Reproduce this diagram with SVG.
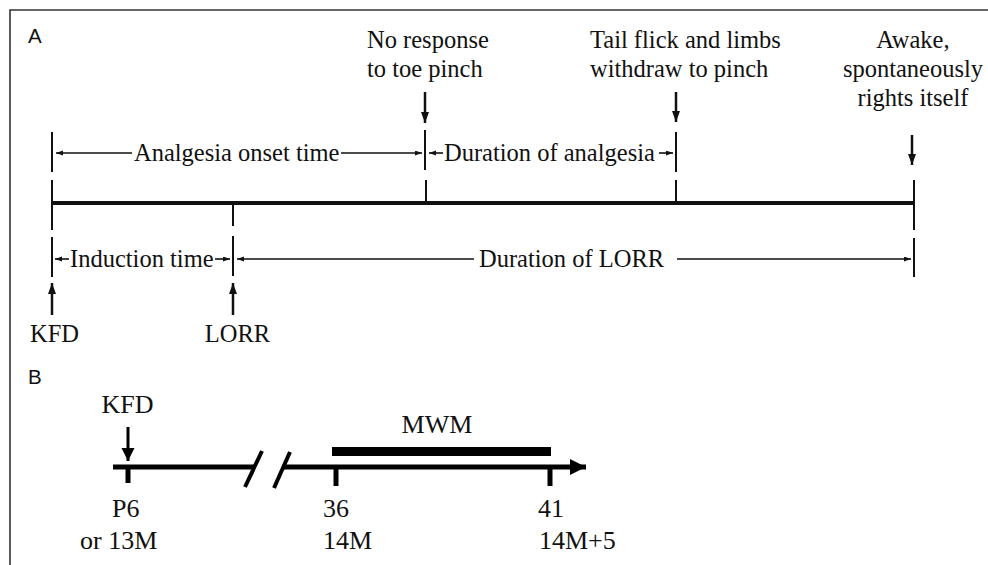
<svg xmlns="http://www.w3.org/2000/svg" width="988" height="565" viewBox="0 0 988 565">
  <style>
    text.serif { font-family: 'Liberation Serif', 'DejaVu Serif', serif; fill: #111; }
    text.a { font-size: 24.5px; }
    text.b { font-size: 26px; }
    text.panel { font-family: 'Liberation Sans', Arial, sans-serif; font-size: 20.5px; fill: #111; }
    .frame { stroke: #333; stroke-width: 1.6; fill: none; }
    .tick { stroke: #111; stroke-width: 2; fill: none; }
    .dim { stroke: #111; stroke-width: 1.6; fill: none; marker-end: url(#small); }
    .pointer { stroke: #111; stroke-width: 2.5; fill: none; marker-end: url(#big); }
    .pointerB { stroke: #000; stroke-width: 3; fill: none; marker-end: url(#bigK); }
    .axis { stroke: #111; stroke-width: 4; fill: none; }
    .axisB { stroke: #000; stroke-width: 5; fill: none; }
    .slash { stroke: #000; stroke-width: 4; fill: none; }
  </style>
  <defs>
    <marker id="small" markerUnits="userSpaceOnUse" markerWidth="8" markerHeight="6" refX="7" refY="2.5" orient="auto">
      <path d="M0,0 L7,2.5 L0,5 z" fill="#111"/>
    </marker>
    <marker id="big" markerUnits="userSpaceOnUse" markerWidth="12" markerHeight="9" refX="11" refY="4" orient="auto">
      <path d="M0,0 L11,4 L0,8 z" fill="#111"/>
    </marker>
    <marker id="bigK" markerUnits="userSpaceOnUse" markerWidth="14" markerHeight="14" refX="13" refY="6.5" orient="auto">
      <path d="M0,0 L13,6.5 L0,13 z" fill="#000"/>
    </marker>
    <marker id="bigB" markerUnits="userSpaceOnUse" markerWidth="17" markerHeight="17" refX="16" refY="8" orient="auto">
      <path d="M0,0 L16,8 L0,16 z" fill="#000"/>
    </marker>
  </defs>

  <!-- outer frame (open to the right and bottom) -->
  <path class="frame" d="M10,565 L10,10 L988,10"/>

  <!-- Panel A -->
  <text class="panel" x="28" y="43">A</text>

  <g id="connectors-A">
    <!-- main timeline -->
    <line class="axis" x1="52" y1="203" x2="914" y2="203"/>
    <!-- timeline ticks -->
    <line class="tick" x1="52" y1="180" x2="52" y2="230"/>
    <line class="tick" x1="233" y1="203" x2="233" y2="226"/>
    <line class="tick" x1="426" y1="180" x2="426" y2="203"/>
    <line class="tick" x1="676" y1="180" x2="676" y2="203"/>
    <line class="tick" x1="914" y1="180" x2="914" y2="230"/>
    <!-- dimension end bars, upper row -->
    <line class="tick" x1="52" y1="132" x2="52" y2="172"/>
    <line class="tick" x1="425" y1="130" x2="425" y2="170"/>
    <line class="tick" x1="676" y1="132" x2="676" y2="172"/>
    <!-- dimension end bars, lower row -->
    <line class="tick" x1="52" y1="237" x2="52" y2="277"/>
    <line class="tick" x1="233" y1="236" x2="233" y2="276"/>
    <line class="tick" x1="914" y1="238" x2="914" y2="277"/>
    <!-- dimension arrows, upper row -->
    <line class="dim" x1="132" y1="153" x2="56" y2="153"/>
    <line class="dim" x1="341" y1="153" x2="422" y2="153"/>
    <line class="dim" x1="443" y1="153" x2="429" y2="153"/>
    <line class="dim" x1="659" y1="153" x2="673" y2="153"/>
    <!-- dimension arrows, lower row -->
    <line class="dim" x1="69" y1="259" x2="55" y2="259"/>
    <line class="dim" x1="215" y1="259" x2="230" y2="259"/>
    <line class="dim" x1="474" y1="259" x2="237" y2="259"/>
    <line class="dim" x1="677" y1="259" x2="911" y2="259"/>
    <!-- event pointers -->
    <line class="pointer" x1="425" y1="92" x2="425" y2="123"/>
    <line class="pointer" x1="676" y1="92" x2="676" y2="122"/>
    <line class="pointer" x1="912" y1="135" x2="912" y2="165"/>
    <line class="pointer" x1="52" y1="315" x2="52" y2="283"/>
    <line class="pointer" x1="233" y1="315" x2="233" y2="283"/>
  </g>

  <g id="label-no-response" font-family="Liberation Serif, serif">
    <text class="serif a" x="367" y="48">No response</text>
    <text class="serif a" x="367" y="77">to toe pinch</text>
  </g>
  <g id="label-tail-flick" font-family="Liberation Serif, serif">
    <text class="serif a" x="590" y="48">Tail flick and limbs</text>
    <text class="serif a" x="590" y="77">withdraw to pinch</text>
  </g>
  <g id="label-awake" font-family="Liberation Serif, serif">
    <text class="serif a" x="913" y="48" text-anchor="middle">Awake,</text>
    <text class="serif a" x="913" y="77" text-anchor="middle">spontaneously</text>
    <text class="serif a" x="913" y="106" text-anchor="middle">rights itself</text>
  </g>
  <g id="label-onset" font-family="Liberation Serif, serif">
    <text class="serif a" x="134" y="161">Analgesia onset time</text>
  </g>
  <g id="label-analgesia" font-family="Liberation Serif, serif">
    <text class="serif a" x="444" y="161">Duration of analgesia</text>
  </g>
  <g id="label-induction" font-family="Liberation Serif, serif">
    <text class="serif a" x="70" y="267">Induction time</text>
  </g>
  <g id="label-lorr-duration" font-family="Liberation Serif, serif">
    <text class="serif a" x="479" y="267">Duration of LORR</text>
  </g>
  <g id="label-kfd-a" font-family="Liberation Serif, serif">
    <text class="serif a" x="54.5" y="342" text-anchor="middle">KFD</text>
  </g>
  <g id="label-lorr" font-family="Liberation Serif, serif">
    <text class="serif a" x="237.5" y="342" text-anchor="middle">LORR</text>
  </g>

  <!-- Panel B -->
  <text class="panel" x="28" y="384">B</text>

  <g id="connectors-B">
    <!-- broken timeline -->
    <line class="axisB" x1="113" y1="467" x2="254" y2="467"/>
    <line class="axisB" x1="283" y1="467" x2="586" y2="467" marker-end="url(#bigB)"/>
    <line class="slash" x1="245" y1="487" x2="262" y2="451"/>
    <line class="slash" x1="274" y1="488" x2="290" y2="452"/>
    <!-- ticks -->
    <line class="axisB" x1="128" y1="467" x2="128" y2="483"/>
    <line class="axisB" x1="336" y1="467" x2="336" y2="486"/>
    <line class="axisB" x1="550" y1="467" x2="550" y2="486"/>
    <!-- KFD pointer -->
    <line class="pointerB" x1="128" y1="427" x2="128" y2="461"/>
  </g>

  <g id="mwm-bar" font-family="Liberation Serif, serif">
    <rect x="332" y="447" width="219" height="9" fill="#000"/>
    <text class="serif b" x="437" y="433" text-anchor="middle">MWM</text>
  </g>
  <g id="label-kfd-b" font-family="Liberation Serif, serif">
    <text class="serif b" x="127.5" y="413" text-anchor="middle">KFD</text>
  </g>
  <g id="label-p6" font-family="Liberation Serif, serif">
    <text class="serif b" x="112" y="517">P6</text>
    <text class="serif b" x="80" y="549">or 13M</text>
  </g>
  <g id="label-36" font-family="Liberation Serif, serif">
    <text class="serif b" x="323" y="517">36</text>
    <text class="serif b" x="323" y="549">14M</text>
  </g>
  <g id="label-41" font-family="Liberation Serif, serif">
    <text class="serif b" x="538" y="517">41</text>
    <text class="serif b" x="539" y="549">14M+5</text>
  </g>
</svg>
